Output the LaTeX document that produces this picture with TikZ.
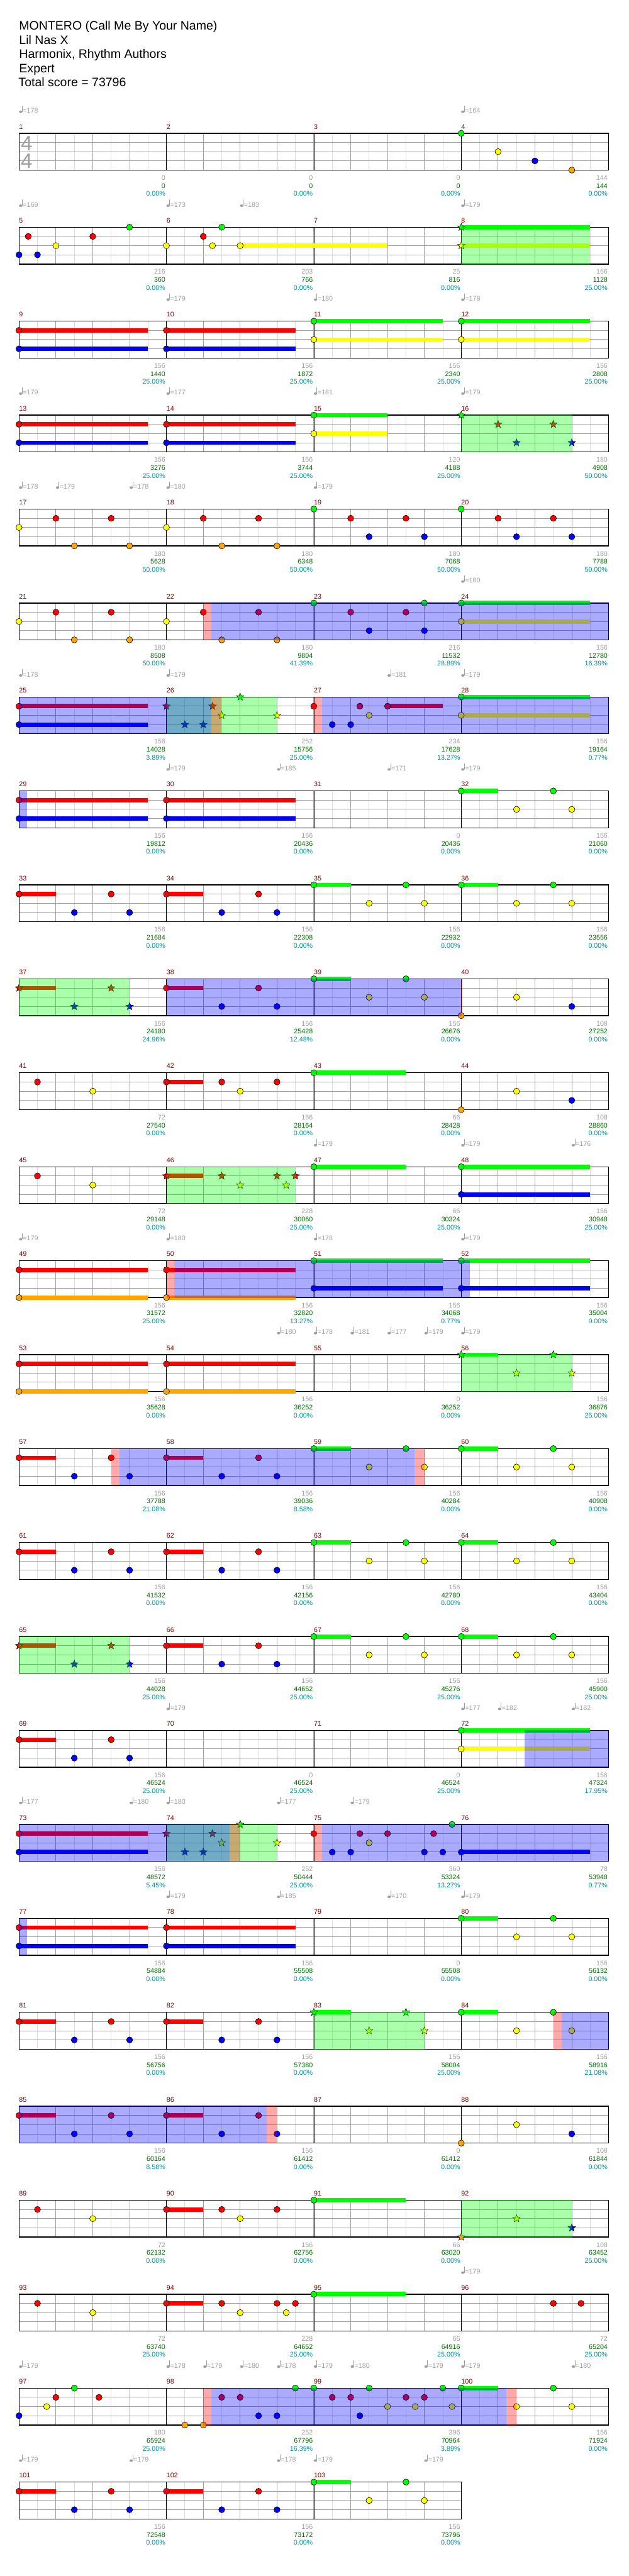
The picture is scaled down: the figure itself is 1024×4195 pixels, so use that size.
\documentclass[tikz,border=0pt]{standalone}
\usepackage{fontspec}
\setmainfont{Liberation Sans}
\usetikzlibrary{shapes.geometric}
\definecolor{lc0}{RGB}{0,255,0}
\definecolor{lc1}{RGB}{255,0,0}
\definecolor{lc2}{RGB}{255,255,0}
\definecolor{lc3}{RGB}{0,0,255}
\definecolor{lc4}{RGB}{255,165,0}
\definecolor{mred}{RGB}{140,0,0}
\definecolor{ggray}{RGB}{160,160,160}
\definecolor{sgreen}{RGB}{0,110,0}
\definecolor{pcyan}{RGB}{0,150,150}
\definecolor{gridlight}{RGB}{222,222,222}
\definecolor{gridmid}{RGB}{160,160,160}
\newcounter{nn}
\newcommand\smallf{\fontsize{11}{13}\selectfont}
\newcommand\titlef{\fontsize{20}{23}\selectfont}
\newcommand\RowY[1]{(217+153*(#1))}
\newcommand\staffrow[2]{%
  \fill[white] (31,{\RowY{#1}}) rectangle ({31+60*(#2)},{\RowY{#1}+60});
  \foreach \bb in {0.5,1.5,...,#2} {\draw[gridlight,line width=1pt] ({31+60*\bb},{\RowY{#1}}) -- ++(0,60);}
  \foreach \bb in {1,...,#2} {\draw[gridmid,line width=1pt] ({31+60*\bb},{\RowY{#1}}) -- ++(0,60);}
  \foreach \ll in {1,2,3} {\draw[gridmid,line width=1pt] (31,{\RowY{#1}+15*\ll}) -- ({31+60*(#2)},{\RowY{#1}+15*\ll});}
  \foreach \bb in {4,8,...,#2} {\draw[black,line width=0.9pt] ({31+60*\bb},{\RowY{#1}}) -- ++(0,60);}
  \draw[black,line width=1.4pt] (31,{\RowY{#1}}) rectangle ({31+60*(#2)},{\RowY{#1}+60});
}
\newcommand\mn[3]{\node[anchor=base west,inner sep=0pt,text=mred,font=\smallf] (m#1-#2) at ({31+240*(#2)},{\RowY{#1}-7}) {#3};}
\newcommand\mrow[2]{\mn{#1}{0}{#2}\mn{#1}{1}{\the\numexpr#2+1\relax}\mn{#1}{2}{\the\numexpr#2+2\relax}\mn{#1}{3}{\the\numexpr#2+3\relax}}
\newcommand\ms[5]{%
  \node[anchor=base east,inner sep=0pt,text=ggray,font=\smallf] (ga#1-#2) at ({29.5+240*(#2+1)},{\RowY{#1}+76.5}) {#3};
  \node[anchor=base east,inner sep=0pt,text=sgreen,font=\smallf] (sc#1-#2) at ({29.5+240*(#2+1)},{\RowY{#1}+89.5}) {#4};
  \node[anchor=base east,inner sep=0pt,text=pcyan,font=\smallf] (pc#1-#2) at ({29.5+240*(#2+1)},{\RowY{#1}+102.5}) {#5};}
\newcommand\tp[3]{%
  \fill[ggray] ({31+60*(#2)+2.6},{\RowY{#1}-35}) ellipse [x radius=2.7, y radius=2.1];
  \draw[ggray,line width=0.8pt] ({31+60*(#2)+5},{\RowY{#1}-35}) -- ++(0,-10);
  \stepcounter{nn}\node[anchor=base west,inner sep=0pt,text=ggray,font=\smallf] (t\arabic{nn}) at ({31+60*(#2)+6},{\RowY{#1}-33}) {=#3};}
\newcommand\nt[3]{\filldraw[fill=lc#2,draw=black,line width=0.6pt] ({31+60*(#3)},{\RowY{#1}+15*(#2)}) circle[radius=5];}
\newcommand\st[3]{\stepcounter{nn}\node[starnote,fill=lc#2] (s\arabic{nn}) at ({31+60*(#3)},{\RowY{#1}+15*(#2)}) {};}
\newcommand\sus[4]{\fill[lc#2] ({31+60*(#3)},{\RowY{#1}+15*(#2)-3.5}) rectangle ({31+60*(#4)},{\RowY{#1}+15*(#2)+3.5});}
\newcommand\sn[4]{\sus{#1}{#2}{#3}{#4}\nt{#1}{#2}{#3}}
\newcommand\spz[3]{\fill[lc0,fill opacity=0.333] ({31+60*(#2)},{\RowY{#1}-0.7}) rectangle ({31+60*(#3)},{\RowY{#1}+60.7});}
\newcommand\act[3]{\fill[lc3,fill opacity=0.333] ({31+60*(#2)},{\RowY{#1}-0.7}) rectangle ({31+60*(#3)},{\RowY{#1}+60.7});}
\newcommand\wh[3]{\fill[lc1,fill opacity=0.333] ({31+60*(#2)},{\RowY{#1}-0.7}) rectangle ({31+60*(#3)},{\RowY{#1}+60.7});}
\newcommand\pRB[2]{\sus{#1}{1}{#2}{#2+1}\nt{#1}{1}{#2}\nt{#1}{3}{#2+1.5}\nt{#1}{1}{#2+2.5}\nt{#1}{3}{#2+3}}
\newcommand\sRB[2]{\sus{#1}{1}{#2}{#2+1}\st{#1}{1}{#2}\st{#1}{3}{#2+1.5}\st{#1}{1}{#2+2.5}\st{#1}{3}{#2+3}}
\newcommand\pGY[2]{\sus{#1}{0}{#2}{#2+1}\nt{#1}{0}{#2}\nt{#1}{2}{#2+1.5}\nt{#1}{0}{#2+2.5}\nt{#1}{2}{#2+3}}
\newcommand\sGY[2]{\sus{#1}{0}{#2}{#2+1}\st{#1}{0}{#2}\st{#1}{2}{#2+1.5}\st{#1}{0}{#2+2.5}\st{#1}{2}{#2+3}}
\begin{document}
\begin{tikzpicture}[x=1pt,y=-1pt,
  starnote/.style={star,star points=5,star point ratio=2.3,minimum size=13pt,inner sep=0pt,draw=black,line width=0.5pt}]
\useasboundingbox (0,0) rectangle (1024,4195);
\fill[white] (0,0) rectangle (1024,4195);
% header
\node[anchor=base west,inner sep=0pt,font=\titlef] (title) at (31,49) {MONTERO (Call Me By Your Name)};
\node[anchor=base west,inner sep=0pt,font=\titlef] (artist) at (31,72) {Lil Nas X};
\node[anchor=base west,inner sep=0pt,font=\titlef] (charter) at (31,95) {Harmonix, Rhythm Authors};
\node[anchor=base west,inner sep=0pt,font=\titlef] (diff) at (31,118) {Expert};
\node[anchor=base west,inner sep=0pt,font=\titlef] (total) at (30,141) {Total score = 73796};
% row 0
\staffrow{0}{16}
\node[anchor=base,inner sep=0pt,text=ggray,font=\fontsize{34}{34}\selectfont] (ts1) at (43.5,245) {4};
\node[anchor=base,inner sep=0pt,text=ggray,font=\fontsize{34}{34}\selectfont] (ts2) at (43.5,274) {4};
\mrow{0}{1}
\ms{0}{0}{0}{0}{0.00\%}\ms{0}{1}{0}{0}{0.00\%}\ms{0}{2}{0}{0}{0.00\%}\ms{0}{3}{144}{144}{0.00\%}
\tp{0}{0}{178}\tp{0}{12}{164}
\nt{0}{0}{12}\nt{0}{2}{13}\nt{0}{3}{14}\nt{0}{4}{15}
% row 1
\staffrow{1}{16}\mrow{1}{5}
\ms{1}{0}{216}{360}{0.00\%}\ms{1}{1}{203}{766}{0.00\%}\ms{1}{2}{25}{816}{0.00\%}\ms{1}{3}{156}{1128}{25.00\%}
\tp{1}{0}{169}\tp{1}{4}{173}\tp{1}{6}{183}\tp{1}{12}{179}
\sus{1}{2}{6}{10}\sus{1}{0}{12}{15.5}\sus{1}{2}{12}{15.5}
\nt{1}{3}{0}\nt{1}{1}{0.25}\nt{1}{3}{0.5}\nt{1}{2}{1}\nt{1}{1}{2}\nt{1}{0}{3}\nt{1}{2}{4}\nt{1}{1}{5}\nt{1}{2}{5.25}\nt{1}{0}{5.5}\nt{1}{2}{6}
\st{1}{0}{12}\st{1}{2}{12}
\spz{1}{12}{15.5}
% row 2
\staffrow{2}{16}\mrow{2}{9}
\ms{2}{0}{156}{1440}{25.00\%}\ms{2}{1}{156}{1872}{25.00\%}\ms{2}{2}{156}{2340}{25.00\%}\ms{2}{3}{156}{2808}{25.00\%}
\tp{2}{4}{179}\tp{2}{8}{180}\tp{2}{12}{178}
\sn{2}{1}{0}{3.5}\sn{2}{3}{0}{3.5}\sn{2}{1}{4}{7.5}\sn{2}{3}{4}{7.5}\sn{2}{0}{8}{11.5}\sn{2}{2}{8}{11.5}\sn{2}{0}{12}{15.5}\sn{2}{2}{12}{15.5}
% row 3
\staffrow{3}{16}\mrow{3}{13}
\ms{3}{0}{156}{3276}{25.00\%}\ms{3}{1}{156}{3744}{25.00\%}\ms{3}{2}{120}{4188}{25.00\%}\ms{3}{3}{180}{4908}{50.00\%}
\tp{3}{0}{179}\tp{3}{4}{177}\tp{3}{8}{181}\tp{3}{12}{179}
\sn{3}{1}{0}{3.5}\sn{3}{3}{0}{3.5}\sn{3}{1}{4}{7.5}\sn{3}{3}{4}{7.5}\sn{3}{0}{8}{10}\sn{3}{2}{8}{10}
\st{3}{0}{12}\st{3}{1}{13}\st{3}{3}{13.5}\st{3}{1}{14.5}\st{3}{3}{15}
\spz{3}{12}{15}
% row 4
\staffrow{4}{16}\mrow{4}{17}
\ms{4}{0}{180}{5628}{50.00\%}\ms{4}{1}{180}{6348}{50.00\%}\ms{4}{2}{180}{7068}{50.00\%}\ms{4}{3}{180}{7788}{50.00\%}
\tp{4}{0}{178}\tp{4}{1}{179}\tp{4}{3}{178}\tp{4}{4}{180}\tp{4}{8}{179}
\nt{4}{2}{0}\nt{4}{1}{1}\nt{4}{4}{1.5}\nt{4}{1}{2.5}\nt{4}{4}{3}\nt{4}{2}{4}\nt{4}{1}{5}\nt{4}{4}{5.5}\nt{4}{1}{6.5}\nt{4}{4}{7}
\nt{4}{0}{8}\nt{4}{1}{9}\nt{4}{3}{9.5}\nt{4}{1}{10.5}\nt{4}{3}{11}\nt{4}{0}{12}\nt{4}{1}{13}\nt{4}{3}{13.5}\nt{4}{1}{14.5}\nt{4}{3}{15}
% row 5
\staffrow{5}{16}\mrow{5}{21}
\ms{5}{0}{180}{8508}{50.00\%}\ms{5}{1}{180}{9804}{41.39\%}\ms{5}{2}{216}{11532}{28.89\%}\ms{5}{3}{156}{12780}{16.39\%}
\tp{5}{12}{180}
\nt{5}{2}{0}\nt{5}{1}{1}\nt{5}{4}{1.5}\nt{5}{1}{2.5}\nt{5}{4}{3}\nt{5}{2}{4}\nt{5}{1}{5}\nt{5}{4}{5.5}\nt{5}{1}{6.5}\nt{5}{4}{7}
\nt{5}{0}{8}\nt{5}{1}{9}\nt{5}{3}{9.5}\nt{5}{1}{10.5}\nt{5}{3}{11}\nt{5}{0}{11}\sn{5}{0}{12}{15.5}\sn{5}{2}{12}{15.5}
\wh{5}{5}{5.22}\act{5}{5.22}{16}
% row 6
\staffrow{6}{16}\mrow{6}{25}
\ms{6}{0}{156}{14028}{3.89\%}\ms{6}{1}{252}{15756}{25.00\%}\ms{6}{2}{234}{17628}{13.27\%}\ms{6}{3}{156}{19164}{0.77\%}
\tp{6}{0}{178}\tp{6}{4}{179}\tp{6}{10}{181}\tp{6}{12}{179}
\sn{6}{1}{0}{3.5}\sn{6}{3}{0}{3.5}
\st{6}{1}{4}\st{6}{3}{4.5}\st{6}{3}{5}\st{6}{1}{5.25}\st{6}{2}{5.5}\st{6}{0}{6}\st{6}{2}{7}
\nt{6}{1}{8}\nt{6}{3}{8.5}\nt{6}{3}{9}\nt{6}{1}{9.25}\nt{6}{2}{9.5}\sn{6}{1}{10}{11.5}
\sn{6}{0}{12}{15.5}\sn{6}{2}{12}{15.5}
\spz{6}{4}{7}\act{6}{0}{5.22}\wh{6}{5.22}{5.5}\wh{6}{8}{8.22}\act{6}{8.22}{16}
% row 7
\staffrow{7}{16}\mrow{7}{29}
\ms{7}{0}{156}{19812}{0.00\%}\ms{7}{1}{156}{20436}{0.00\%}\ms{7}{2}{0}{20436}{0.00\%}\ms{7}{3}{156}{21060}{0.00\%}
\tp{7}{4}{179}\tp{7}{7}{185}\tp{7}{10}{171}\tp{7}{12}{179}
\sn{7}{1}{0}{3.5}\sn{7}{3}{0}{3.5}\sn{7}{1}{4}{7.5}\sn{7}{3}{4}{7.5}\sn{7}{0}{12}{13}\nt{7}{2}{13.5}\nt{7}{0}{14.5}\nt{7}{2}{15}
\act{7}{0}{0.22}
% row 8
\staffrow{8}{16}\mrow{8}{33}
\ms{8}{0}{156}{21684}{0.00\%}\ms{8}{1}{156}{22308}{0.00\%}\ms{8}{2}{156}{22932}{0.00\%}\ms{8}{3}{156}{23556}{0.00\%}
\pRB{8}{0}\pRB{8}{4}\pGY{8}{8}\pGY{8}{12}
% row 9
\staffrow{9}{16}\mrow{9}{37}
\ms{9}{0}{156}{24180}{24.96\%}\ms{9}{1}{156}{25428}{12.48\%}\ms{9}{2}{156}{26676}{0.00\%}\ms{9}{3}{108}{27252}{0.00\%}
\sRB{9}{0}\pRB{9}{4}\pGY{9}{8}\nt{9}{4}{12}\nt{9}{2}{13.5}\nt{9}{3}{15}
\spz{9}{0}{3}\act{9}{4}{12}\wh{9}{12}{12.03}
% row 10
\staffrow{10}{16}\mrow{10}{41}
\ms{10}{0}{72}{27540}{0.00\%}\ms{10}{1}{156}{28164}{0.00\%}\ms{10}{2}{66}{28428}{0.00\%}\ms{10}{3}{108}{28860}{0.00\%}
\nt{10}{1}{0.5}\nt{10}{2}{2}\sn{10}{1}{4}{5}\nt{10}{1}{5.5}\nt{10}{2}{6}\nt{10}{1}{7}\sn{10}{0}{8}{10.5}\nt{10}{4}{12}\nt{10}{2}{13.5}\nt{10}{3}{15}
% row 11
\staffrow{11}{16}\mrow{11}{45}
\ms{11}{0}{72}{29148}{0.00\%}\ms{11}{1}{228}{30060}{25.00\%}\ms{11}{2}{66}{30324}{25.00\%}\ms{11}{3}{156}{30948}{25.00\%}
\tp{11}{8}{179}\tp{11}{12}{179}\tp{11}{15}{176}
\nt{11}{1}{0.5}\nt{11}{2}{2}\sus{11}{1}{4}{5}\st{11}{1}{4}\st{11}{1}{5.5}\st{11}{2}{6}\st{11}{1}{7}\st{11}{2}{7.25}\st{11}{1}{7.5}
\sn{11}{0}{8}{10.5}\sn{11}{0}{12}{15.5}\sn{11}{3}{12}{15.5}
\spz{11}{4}{7.5}
% row 12
\staffrow{12}{16}\mrow{12}{49}
\ms{12}{0}{156}{31572}{25.00\%}\ms{12}{1}{156}{32820}{13.27\%}\ms{12}{2}{156}{34068}{0.77\%}\ms{12}{3}{156}{35004}{0.00\%}
\tp{12}{0}{179}\tp{12}{4}{180}\tp{12}{8}{178}\tp{12}{12}{179}
\sn{12}{1}{0}{3.5}\sn{12}{4}{0}{3.5}\sn{12}{1}{4}{7.5}\sn{12}{4}{4}{7.5}\sn{12}{0}{8}{11.5}\sn{12}{3}{8}{11.5}\sn{12}{0}{12}{15.5}\sn{12}{3}{12}{15.5}
\wh{12}{4}{4.22}\act{12}{4.22}{12.23}
% row 13
\staffrow{13}{16}\mrow{13}{53}
\ms{13}{0}{156}{35628}{0.00\%}\ms{13}{1}{156}{36252}{0.00\%}\ms{13}{2}{0}{36252}{0.00\%}\ms{13}{3}{156}{36876}{25.00\%}
\tp{13}{7}{180}\tp{13}{8}{178}\tp{13}{9}{181}\tp{13}{10}{177}\tp{13}{11}{179}\tp{13}{12}{179}
\sn{13}{1}{0}{3.5}\sn{13}{4}{0}{3.5}\sn{13}{1}{4}{7.5}\sn{13}{4}{4}{7.5}\sGY{13}{12}
\spz{13}{12}{15}
% row 14
\staffrow{14}{16}\mrow{14}{57}
\ms{14}{0}{156}{37788}{21.08\%}\ms{14}{1}{156}{39036}{8.58\%}\ms{14}{2}{156}{40284}{0.00\%}\ms{14}{3}{156}{40908}{0.00\%}
\pRB{14}{0}\pRB{14}{4}\pGY{14}{8}\pGY{14}{12}
\wh{14}{2.5}{2.73}\act{14}{2.73}{10.73}\wh{14}{10.73}{11}
% row 15
\staffrow{15}{16}\mrow{15}{61}
\ms{15}{0}{156}{41532}{0.00\%}\ms{15}{1}{156}{42156}{0.00\%}\ms{15}{2}{156}{42780}{0.00\%}\ms{15}{3}{156}{43404}{0.00\%}
\pRB{15}{0}\pRB{15}{4}\pGY{15}{8}\pGY{15}{12}
% row 16
\staffrow{16}{16}\mrow{16}{65}
\ms{16}{0}{156}{44028}{25.00\%}\ms{16}{1}{156}{44652}{25.00\%}\ms{16}{2}{156}{45276}{25.00\%}\ms{16}{3}{156}{45900}{25.00\%}
\sRB{16}{0}\pRB{16}{4}\pGY{16}{8}\pGY{16}{12}
\spz{16}{0}{3}
% row 17
\staffrow{17}{16}\mrow{17}{69}
\ms{17}{0}{156}{46524}{25.00\%}\ms{17}{1}{0}{46524}{25.00\%}\ms{17}{2}{0}{46524}{25.00\%}\ms{17}{3}{156}{47324}{17.95\%}
\tp{17}{4}{179}\tp{17}{12}{177}\tp{17}{13}{182}\tp{17}{15}{182}
\pRB{17}{0}\sn{17}{0}{12}{15.5}\sn{17}{2}{12}{15.5}
\act{17}{13.72}{16}
% row 18
\staffrow{18}{16}\mrow{18}{73}
\ms{18}{0}{156}{48572}{5.45\%}\ms{18}{1}{252}{50444}{25.00\%}\ms{18}{2}{360}{53324}{13.27\%}\ms{18}{3}{78}{53948}{0.77\%}
\tp{18}{0}{177}\tp{18}{3}{180}\tp{18}{4}{180}\tp{18}{7}{177}\tp{18}{9}{179}
\sn{18}{1}{0}{3.5}\sn{18}{3}{0}{3.5}
\st{18}{1}{4}\st{18}{3}{4.5}\st{18}{3}{5}\st{18}{1}{5.25}\st{18}{2}{5.5}\st{18}{0}{6}\st{18}{2}{7}
\nt{18}{1}{8}\nt{18}{3}{8.5}\nt{18}{3}{9}\nt{18}{1}{9.25}\nt{18}{2}{9.5}\nt{18}{1}{10}\nt{18}{3}{11}\nt{18}{1}{11.25}\nt{18}{3}{11.5}\nt{18}{0}{11.75}
\sn{18}{3}{12}{15.5}
\spz{18}{4}{7}\act{18}{0}{5.72}\wh{18}{5.72}{6}\wh{18}{8}{8.22}\act{18}{8.22}{16}
% row 19
\staffrow{19}{16}\mrow{19}{77}
\ms{19}{0}{156}{54884}{0.00\%}\ms{19}{1}{156}{55508}{0.00\%}\ms{19}{2}{0}{55508}{0.00\%}\ms{19}{3}{156}{56132}{0.00\%}
\tp{19}{4}{179}\tp{19}{7}{185}\tp{19}{10}{170}\tp{19}{12}{179}
\sn{19}{1}{0}{3.5}\sn{19}{3}{0}{3.5}\sn{19}{1}{4}{7.5}\sn{19}{3}{4}{7.5}\sn{19}{0}{12}{13}\nt{19}{2}{13.5}\nt{19}{0}{14.5}\nt{19}{2}{15}
\act{19}{0}{0.22}
% row 20
\staffrow{20}{16}\mrow{20}{81}
\ms{20}{0}{156}{56756}{0.00\%}\ms{20}{1}{156}{57380}{0.00\%}\ms{20}{2}{156}{58004}{25.00\%}\ms{20}{3}{156}{58916}{21.08\%}
\pRB{20}{0}\pRB{20}{4}\sGY{20}{8}\pGY{20}{12}
\spz{20}{8}{11}\wh{20}{14.5}{14.72}\act{20}{14.72}{16}
% row 21
\staffrow{21}{16}\mrow{21}{85}
\ms{21}{0}{156}{60164}{8.58\%}\ms{21}{1}{156}{61412}{0.00\%}\ms{21}{2}{0}{61412}{0.00\%}\ms{21}{3}{108}{61844}{0.00\%}
\pRB{21}{0}\pRB{21}{4}\nt{21}{4}{12}\nt{21}{2}{13.5}\nt{21}{3}{15}
\act{21}{0}{6.72}\wh{21}{6.72}{7}
% row 22
\staffrow{22}{16}\mrow{22}{89}
\ms{22}{0}{72}{62132}{0.00\%}\ms{22}{1}{156}{62756}{0.00\%}\ms{22}{2}{66}{63020}{0.00\%}\ms{22}{3}{108}{63452}{25.00\%}
\nt{22}{1}{0.5}\nt{22}{2}{2}\sn{22}{1}{4}{5}\nt{22}{1}{5.5}\nt{22}{2}{6}\nt{22}{1}{7}\sn{22}{0}{8}{10.5}\st{22}{4}{12}\st{22}{2}{13.5}\st{22}{3}{15}
\spz{22}{12}{15}
% row 23
\staffrow{23}{16}\mrow{23}{93}
\ms{23}{0}{72}{63740}{25.00\%}\ms{23}{1}{228}{64652}{25.00\%}\ms{23}{2}{66}{64916}{25.00\%}\ms{23}{3}{72}{65204}{25.00\%}
\tp{23}{12}{179}
\nt{23}{1}{0.5}\nt{23}{2}{2}\sn{23}{1}{4}{5}\nt{23}{1}{5.5}\nt{23}{2}{6}\nt{23}{1}{7}\nt{23}{2}{7.25}\nt{23}{1}{7.5}\sn{23}{0}{8}{10.5}\nt{23}{1}{14.5}\nt{23}{1}{15.25}
% row 24
\staffrow{24}{16}\mrow{24}{97}
\ms{24}{0}{180}{65924}{25.00\%}\ms{24}{1}{252}{67796}{16.39\%}\ms{24}{2}{396}{70964}{3.89\%}\ms{24}{3}{156}{71924}{0.00\%}
\tp{24}{0}{179}\tp{24}{4}{178}\tp{24}{5}{179}\tp{24}{6}{180}\tp{24}{7}{178}\tp{24}{8}{179}\tp{24}{9}{180}\tp{24}{11}{179}\tp{24}{12}{179}\tp{24}{15}{180}
\nt{24}{3}{0}\nt{24}{2}{0.75}\nt{24}{1}{1}\nt{24}{0}{1.5}\nt{24}{1}{2.17}
\nt{24}{4}{4.5}\nt{24}{4}{5}\nt{24}{1}{5.5}\nt{24}{1}{6}\nt{24}{3}{6.5}\nt{24}{3}{7}\nt{24}{0}{7.5}
\nt{24}{0}{8}\nt{24}{1}{8.5}\nt{24}{1}{9}\nt{24}{3}{9.25}\nt{24}{0}{9.5}\nt{24}{2}{10}\nt{24}{1}{10.5}\nt{24}{2}{10.75}\nt{24}{1}{11}\nt{24}{0}{11.5}\nt{24}{2}{11.75}
\sn{24}{0}{12}{13}\nt{24}{2}{13.5}\nt{24}{0}{14.5}\nt{24}{2}{15}
\wh{24}{5}{5.22}\act{24}{5.22}{13.23}\wh{24}{13.23}{13.5}
% row 25
\staffrow{25}{12}
\mn{25}{0}{101}\mn{25}{1}{102}\mn{25}{2}{103}
\ms{25}{0}{156}{72548}{0.00\%}\ms{25}{1}{156}{73172}{0.00\%}\ms{25}{2}{156}{73796}{0.00\%}
\tp{25}{0}{179}\tp{25}{3}{179}\tp{25}{7}{178}\tp{25}{8}{179}\tp{25}{11}{179}
\pRB{25}{0}\pRB{25}{4}\pGY{25}{8}
\end{tikzpicture}
\end{document}
